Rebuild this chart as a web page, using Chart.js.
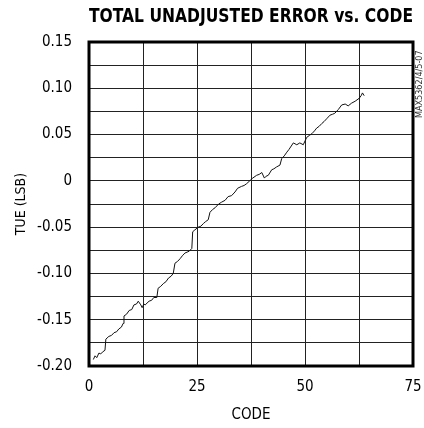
<!doctype html>
<html>

<head>
    <title>TUE vs code</title>
    <script src="https://cdn.jsdelivr.net/npm/chart.js"></script>
    <style>
        body { margin: 0; background: #fff; }
    </style>
</head>

<body>
    <div style="width: 424px; height: 428px;">
        <canvas id="tueChart"></canvas>
    </div>

    <script>
        // values
        const codes = [1.0, 1.4, 1.8, 2.3, 2.7, 3.1, 3.7, 3.9, 4.6, 5.2, 5.8, 6.4, 6.9, 7.5, 7.9, 8.1, 8.7, 9.3, 9.9, 10.4,
            11.0, 11.4, 12.0, 12.3, 12.7, 13.0, 13.9, 14.5, 15.0, 15.7, 16.0, 16.6, 17.2, 17.8, 18.4, 19.0, 19.5, 19.9, 20.5, 21.1,
            21.6, 22.2, 22.7, 23.2, 23.8, 24.0, 24.5, 25.3, 25.9, 26.5, 27.0, 27.6, 28.0, 28.6, 29.2, 30.0, 30.7, 31.5, 32.2, 33.0,
            33.8, 34.4, 35.3, 35.9, 36.5, 37.2, 37.9, 38.8, 39.4, 40.0, 40.6, 41.0, 41.5, 42.3, 42.8, 43.4, 44.2, 44.6, 45.2, 45.8,
            46.3, 47.3, 48.1, 48.8, 49.6, 50.4, 51.0, 51.6, 52.2, 52.7, 53.3, 53.9, 54.4, 55.0, 55.8, 56.4, 56.9, 57.7, 58.5, 59.3,
            60.0, 60.8, 61.6, 62.5, 63.0, 63.3, 63.7];
        const tue = [-0.193, -0.189, -0.191, -0.186, -0.187, -0.185, -0.183, -0.171, -0.168, -0.167, -0.164, -0.163, -0.160, -0.158, -0.154, -0.146, -0.144, -0.140, -0.139, -0.134,
            -0.133, -0.130, -0.134, -0.137, -0.133, -0.134, -0.130, -0.129, -0.126, -0.126, -0.116, -0.114, -0.111, -0.109, -0.105, -0.103, -0.100, -0.089, -0.087, -0.084,
            -0.081, -0.078, -0.077, -0.076, -0.073, -0.055, -0.053, -0.050, -0.049, -0.046, -0.044, -0.042, -0.034, -0.031, -0.029, -0.025, -0.023, -0.021, -0.017, -0.016,
            -0.012, -0.008, -0.006, -0.005, -0.003, 0.000, 0.003, 0.006, 0.007, 0.009, 0.003, 0.005, 0.006, 0.012, 0.013, 0.015, 0.017, 0.024, 0.027, 0.031,
            0.034, 0.041, 0.039, 0.041, 0.039, 0.047, 0.049, 0.051, 0.054, 0.057, 0.059, 0.062, 0.064, 0.067, 0.071, 0.072, 0.073, 0.077, 0.082, 0.083,
            0.081, 0.084, 0.086, 0.089, 0.092, 0.095, 0.092];

        const xMin = 0, xMax = 75, xStep = 12.5;
        const yMin = -0.20, yMax = 0.15, yStep = 0.025;
        const docCode = 'MAX5362/4/5-07';

        const narrow = "'Liberation Sans Narrow', 'DejaVu Sans Condensed', sans-serif";

        // thick frame round the plot + the small rotated doc code on the right
        const framePlugin = {
            id: 'frame',
            afterDraw(chart) {
                const ctx = chart.ctx;
                const a = chart.chartArea;
                ctx.save();
                ctx.strokeStyle = '#000';
                ctx.lineWidth = 3;
                ctx.strokeRect(a.left, a.top, a.right - a.left, a.bottom - a.top);
                ctx.translate(420, 118);
                ctx.rotate(-Math.PI / 2);
                ctx.font = "9px " + narrow;
                ctx.fillStyle = '#333';
                ctx.textBaseline = 'middle';
                ctx.fillText(docCode, 0, 0);
                ctx.restore();
            }
        };

        var tueChart = new Chart(document.getElementById('tueChart').getContext('2d'), {
            type: 'line',
            data: {
                datasets: [{
                    label: 'TUE',
                    data: codes.map((c, i) => ({ x: c, y: tue[i] })),
                    borderColor: '#111',
                    borderWidth: 1,
                    pointRadius: 0,
                    tension: 0
                }]
            },
            options: {
                responsive: true,
                maintainAspectRatio: false,
                animation: false,
                layout: {
                    padding: { left: 0, right: 11, top: 0, bottom: 0 }
                },
                plugins: {
                    legend: { display: false },
                    tooltip: { enabled: false },
                    title: {
                        display: true,
                        text: 'TOTAL UNADJUSTED ERROR vs. CODE',
                        fullSize: false,
                        color: '#000',
                        font: { family: narrow, size: 20, weight: 'bold', lineHeight: 1.2 },
                        padding: { top: 5, bottom: 13 }
                    }
                },
                scales: {
                    x: {
                        type: 'linear',
                        min: xMin,
                        max: xMax,
                        afterFit: (s) => { s.height = 62; s.paddingLeft = 0; s.paddingRight = 0; },
                        grid: { color: '#222', lineWidth: 1, drawTicks: false },
                        border: { display: false },
                        ticks: {
                            stepSize: xStep,
                            color: '#000',
                            padding: 12,
                            maxRotation: 0,
                            font: { family: narrow, size: 15 },
                            callback: (v) => (Math.round(v * 10) % 250 === 0 ? String(v) : '')
                        },
                        title: {
                            display: true,
                            text: 'CODE',
                            color: '#000',
                            font: { family: narrow, size: 15, lineHeight: 1.2 },
                            padding: { top: 0, bottom: 4 }
                        }
                    },
                    y: {
                        min: yMin,
                        max: yMax,
                        afterFit: (s) => { s.width = 89; s.paddingTop = 0; s.paddingBottom = 0; },
                        grid: { color: '#222', lineWidth: 1, drawTicks: false },
                        border: { display: false },
                        ticks: {
                            stepSize: yStep,
                            color: '#000',
                            padding: 17,
                            font: { family: narrow, size: 15 },
                            callback: (v) => {
                                const m = Math.round(v * 1000);
                                if (m % 50 !== 0) return '';
                                return m === 0 ? '0' : (m / 1000).toFixed(2);
                            }
                        },
                        title: {
                            display: true,
                            text: 'TUE (LSB)',
                            color: '#000',
                            font: { family: narrow, size: 14, lineHeight: 1.2 },
                            padding: { top: 13, bottom: 0 }
                        }
                    }
                }
            },
            plugins: [framePlugin]
        });
    </script>
</body>

</html>
